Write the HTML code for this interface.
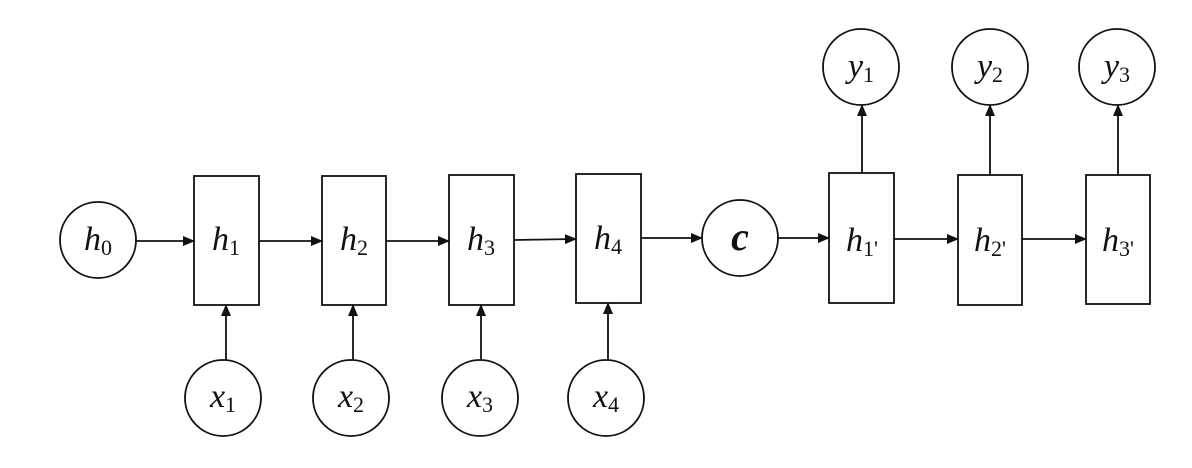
<!DOCTYPE html>
<html><head><meta charset="utf-8"><style>html,body{margin:0;padding:0;background:#fff}</style></head>
<body>
<svg width="1192" height="463" viewBox="0 0 1192 463" xmlns="http://www.w3.org/2000/svg">
<defs><marker id="a" markerWidth="12" markerHeight="10" refX="11" refY="5" orient="auto" markerUnits="userSpaceOnUse"><path d="M0,0 L12,5 L0,10 z" fill="#111"/></marker></defs>
<g fill="none" stroke="#111" stroke-width="1.8">
<circle cx="98" cy="240" r="38"/>
<rect x="194" y="176" width="65" height="129"/>
<rect x="322" y="176" width="64" height="129"/>
<rect x="449" y="175" width="65" height="130"/>
<rect x="576" y="174" width="65" height="129"/>
<circle cx="740" cy="238" r="38"/>
<rect x="829" y="173" width="65" height="130"/>
<rect x="958" y="175" width="64" height="130"/>
<rect x="1086" y="175" width="64" height="129"/>
<circle cx="223" cy="398" r="38"/><circle cx="351" cy="398" r="38"/><circle cx="480" cy="398" r="38"/><circle cx="606" cy="398" r="38"/>
<circle cx="861" cy="67" r="38"/><circle cx="990" cy="67" r="38"/><circle cx="1117" cy="67" r="38"/>
</g>
<g stroke="#111" stroke-width="1.8" marker-end="url(#a)">
<line x1="136" y1="241" x2="194" y2="241"/>
<line x1="259" y1="241" x2="322" y2="241"/>
<line x1="386" y1="241" x2="449" y2="241"/>
<line x1="514" y1="240" x2="576" y2="239"/>
<line x1="641" y1="238" x2="702" y2="238"/>
<line x1="778" y1="238" x2="829" y2="238"/>
<line x1="894" y1="239" x2="958" y2="239"/>
<line x1="1022" y1="239" x2="1086" y2="239"/>
<line x1="226" y1="360" x2="226" y2="305"/>
<line x1="353" y1="360" x2="353" y2="305"/>
<line x1="481" y1="360" x2="481" y2="305"/>
<line x1="608" y1="360" x2="608" y2="303"/>
<line x1="862" y1="173" x2="862" y2="105"/>
<line x1="990" y1="175" x2="990" y2="105"/>
<line x1="1118" y1="175" x2="1118" y2="105"/>
</g>
<g font-family="Liberation Serif, serif" font-size="34" fill="#111" text-anchor="middle">
<text x="98" y="250"><tspan font-style="italic">h</tspan><tspan font-size="22" dy="5">0</tspan></text>
<text x="226" y="250"><tspan font-style="italic">h</tspan><tspan font-size="22" dy="5">1</tspan></text>
<text x="354" y="250"><tspan font-style="italic">h</tspan><tspan font-size="22" dy="5">2</tspan></text>
<text x="481" y="250"><tspan font-style="italic">h</tspan><tspan font-size="22" dy="5">3</tspan></text>
<text x="608" y="249"><tspan font-style="italic">h</tspan><tspan font-size="22" dy="5">4</tspan></text>
<text x="740" y="250" font-weight="bold" font-style="italic" font-size="40">c</text>
<text x="862" y="251"><tspan font-style="italic">h</tspan><tspan font-size="22" dy="5">1'</tspan></text>
<text x="990" y="251"><tspan font-style="italic">h</tspan><tspan font-size="22" dy="5">2'</tspan></text>
<text x="1118" y="251"><tspan font-style="italic">h</tspan><tspan font-size="22" dy="5">3'</tspan></text>
<text x="223" y="407"><tspan font-style="italic">x</tspan><tspan font-size="22" dy="5">1</tspan></text>
<text x="351" y="407"><tspan font-style="italic">x</tspan><tspan font-size="22" dy="5">2</tspan></text>
<text x="480" y="407"><tspan font-style="italic">x</tspan><tspan font-size="22" dy="5">3</tspan></text>
<text x="606" y="407"><tspan font-style="italic">x</tspan><tspan font-size="22" dy="5">4</tspan></text>
<text x="861" y="77"><tspan font-style="italic">y</tspan><tspan font-size="22" dy="5">1</tspan></text>
<text x="990" y="77"><tspan font-style="italic">y</tspan><tspan font-size="22" dy="5">2</tspan></text>
<text x="1117" y="77"><tspan font-style="italic">y</tspan><tspan font-size="22" dy="5">3</tspan></text>
</g>
</svg>
</body></html>
